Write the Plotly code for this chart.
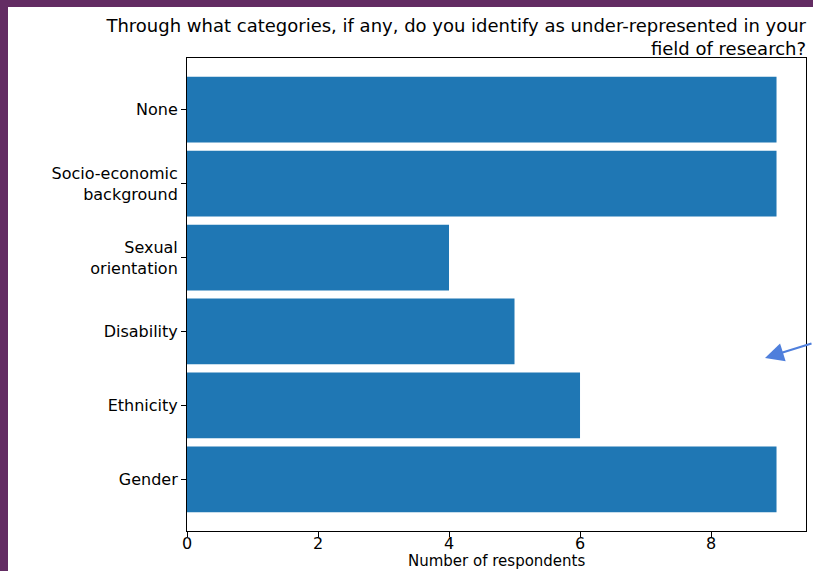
import plotly.graph_objects as go

categories = ["Gender", "Ethnicity", "Disability", "Sexual<br>orientation",
              "Socio-economic<br>background", "None"]
counts = [9, 6, 5, 4, 9, 9]
x_ticks = [0, 2, 4, 6, 8]

W, H = 813, 571
L, R, T, B = 187, 806, 58, 531
pw, ph = R - L, B - T

def px_x(x):
    return (x - L) / pw

def px_y(y):
    return 1 - (y - T) / ph

fig = go.Figure(go.Bar(
    y=list(range(len(categories))), x=counts, orientation="h",
    marker=dict(color="#1f77b4", line=dict(width=0)), width=0.89,
))

fig.update_layout(
    width=W, height=H,
    margin=dict(l=L, r=W - R, t=T, b=H - B, autoexpand=False),
    paper_bgcolor="white", plot_bgcolor="white",
    font=dict(family="DejaVu Sans", size=16, color="black"),
    showlegend=False,
    title=dict(
        text="Through what categories, if any, do you identify as under-represented in your<br>field of research?",
        x=px_x(806), xanchor="right", xref="paper",
        y=1 - 32 / H, yanchor="top", yref="container",
        font=dict(size=18, family="DejaVu Sans", color="black"),
    ),
    xaxis=dict(
        range=[0, 9.45], tickvals=x_ticks, ticktext=[str(v) for v in x_ticks],
        showgrid=False, zeroline=False, showline=True, linecolor="black",
        linewidth=1, mirror=True, ticks="outside", ticklen=5, tickcolor="black",
        tickfont=dict(size=16), automargin=False, ticklabelstandoff=-7,
    ),
    yaxis=dict(
        range=[-0.70, 5.70], tickvals=list(range(len(categories))),
        ticktext=categories,
        showgrid=False, zeroline=False, showline=True, linecolor="black",
        linewidth=1, mirror=True, ticks="outside", ticklen=5, tickcolor="black",
        tickfont=dict(size=16), automargin=False,
    ),
    shapes=[
        dict(type="rect", xref="paper", yref="paper",
             x0=px_x(0), x1=px_x(8), y0=px_y(H), y1=px_y(0),
             fillcolor="#632c63", line=dict(width=0), layer="above"),
        dict(type="rect", xref="paper", yref="paper",
             x0=px_x(0), x1=px_x(W), y0=px_y(7), y1=px_y(0),
             fillcolor="#632c63", line=dict(width=0), layer="above"),
    ],
    annotations=[
        dict(x=0.5, y=px_y(571), xref="paper", yref="paper",
             xanchor="center", yanchor="bottom", showarrow=False,
             borderpad=0, text="Number of respondents", font=dict(size=15)),
        dict(x=px_x(765), y=px_y(358), xref="paper", yref="paper",
             ax=80, ay=-15, axref="pixel", ayref="pixel",
             showarrow=True, arrowhead=2, arrowsize=1.7, arrowwidth=2.2,
             arrowcolor="#4f7fdc", text=""),
    ],
)

fig.write_html(
    "out.html",
    config={"displayModeBar": False},
    post_script="document.body.style.margin='0';document.body.style.overflow='hidden';",
)
